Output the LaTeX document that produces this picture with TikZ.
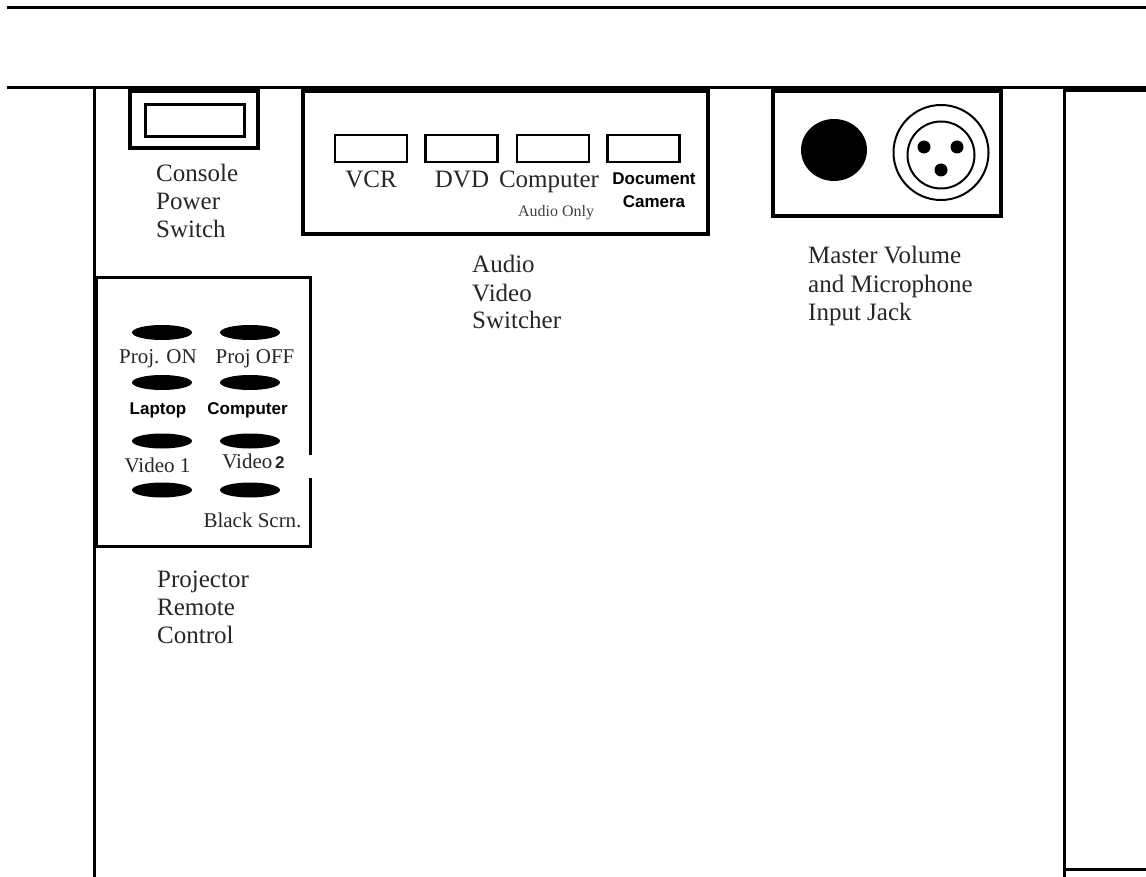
\documentclass[tikz,border=0pt]{standalone}
\usepackage{fontspec}
\setmainfont{Liberation Serif}
\setsansfont{Liberation Sans}
\usetikzlibrary{shapes.geometric}
\begin{document}
\begin{tikzpicture}[x=1pt,y=-1pt,
  wall/.style={line width=3pt},
  box/.style={draw, line width=3.2pt, inner sep=0pt, rectangle},
  slot/.style={draw, line width=2.6pt, inner sep=0pt, rectangle, minimum width=72pt, minimum height=27pt},
  btn/.style={ellipse, fill=black, inner sep=0pt, minimum width=60pt, minimum height=15pt},
  lbl/.style={font=\fontsize{25}{28}\selectfont, anchor=base west, align=left, inner sep=0pt, text=black!85},
  slbl/.style={font=\fontsize{25}{28}\selectfont, anchor=base, inner sep=0pt, text=black!85},
  rlbl/.style={font=\fontsize{21}{24}\selectfont, anchor=base, inner sep=0pt, text=black!85},
  blbl/.style={font=\sffamily\bfseries\fontsize{17}{21}\selectfont, anchor=base, inner sep=0pt, align=center},
]
\useasboundingbox (0,0) rectangle (1146,877);
% walls
\coordinate (t1) at (7,8);   \coordinate (t2) at (1146,8);
\coordinate (s1) at (7,88);  \coordinate (s2) at (1064,88);
\coordinate (s3) at (1064,89.5); \coordinate (s4) at (1146,89.5);
\coordinate (l1) at (94,88); \coordinate (l2) at (94,877);
\coordinate (r1) at (1064,88); \coordinate (r2) at (1064,877);
\coordinate (b1) at (1064,869); \coordinate (b2) at (1146,869);
\draw[wall] (t1) -- (t2);
\draw[wall] (s1) -- (s2);
\draw[line width=6pt] (s3) -- (s4);
\draw[wall] (l1) -- (l2);
\draw[wall] (r1) -- (r2);
\draw[wall] (b1) -- (b2);

% console power switch
\node[box, minimum width=128pt, minimum height=57pt] (cbox) at (194,119.5) {};
\node[box, line width=3pt, minimum width=99pt, minimum height=32pt] (cswitch) at (194.5,121) {};
\node[lbl] (clabel) at (156,238) {Console\\Power\\Switch};

% audio video switcher
\node[box, minimum width=405pt, minimum height=143pt] (avbox) at (505.5,162.5) {};
\node[slot] (svcr) at (371,148.5) {};
\node[slot] (sdvd) at (461.5,148.5) {};
\node[slot] (scomp) at (553,148.5) {};
\node[slot] (sdoc) at (643.5,148.5) {};
\node[slbl] (tvcr) at (371,188) {VCR};
\node[slbl] (tdvd) at (462,188) {DVD};
\node[slbl] (tcomp) at (549,188) {Computer};
\node[font=\fontsize{16}{18}\selectfont, anchor=base, inner sep=0pt, text=black!75] (taudio) at (556,217) {Audio Only};
\node[blbl] (tdoc1) at (654,185) {Document};
\node[blbl] (tdoc2) at (654,208) {Camera};
\node[lbl] (avlabel) at (472,329) {Audio\\Video\\Switcher};

% master volume / mic
\node[box, minimum width=228pt, minimum height=125pt] (micbox) at (887,153.5) {};
\node[ellipse, fill=black, inner sep=0pt, minimum width=66pt, minimum height=62pt] (knob) at (834,150) {};
\node[circle, draw, line width=2pt, inner sep=0pt, minimum size=95pt] (xlro) at (941,152.5) {};
\node[circle, draw, line width=2pt, inner sep=0pt, minimum size=67pt] (xlri) at (941,155) {};
\node[circle, fill=black, inner sep=0pt, minimum size=13pt] (pin1) at (924,147) {};
\node[circle, fill=black, inner sep=0pt, minimum size=13pt] (pin2) at (957,147) {};
\node[circle, fill=black, inner sep=0pt, minimum size=13pt] (pin3) at (941,170) {};
\node[lbl] (miclabel) at (808,320) {Master Volume\\and Microphone\\Input Jack};

% projector remote
\coordinate (ra) at (310,455);
\coordinate (rb) at (310,278);
\coordinate (rc) at (96,278);
\coordinate (rd) at (96,546);
\coordinate (re) at (310,546);
\coordinate (rf) at (310,478);
\draw[line width=3pt] (ra) -- (rb) -- (rc) -- (rd) -- (re) -- (rf);
\node[btn] (b11) at (162,332.5) {};
\node[btn] (b12) at (250,332.5) {};
\node[btn] (b21) at (162,382.5) {};
\node[btn] (b22) at (250,382.5) {};
\node[btn] (b31) at (162,441) {};
\node[btn] (b32) at (250,441) {};
\node[btn] (b41) at (162,490) {};
\node[btn] (b42) at (250,490) {};
\node[rlbl] (tpon) at (158,363) {Proj. ON};
\node[rlbl] (tpoff) at (255,363) {Proj OFF};
\node[blbl] (tlap) at (158,414) {Laptop};
\node[blbl] (tcomp2) at (247.5,414) {Computer};
\node[rlbl] (tv1) at (157.5,472) {Video 1};
\node[rlbl] (tv2) at (253.5,468) {Video{\sffamily\bfseries\fontsize{17}{21}\selectfont\,2}};
\node[rlbl] (tblack) at (252.5,527) {Black Scrn.};
\node[lbl] (rlabel) at (157,643) {Projector\\Remote\\Control};
\end{tikzpicture}
\end{document}
